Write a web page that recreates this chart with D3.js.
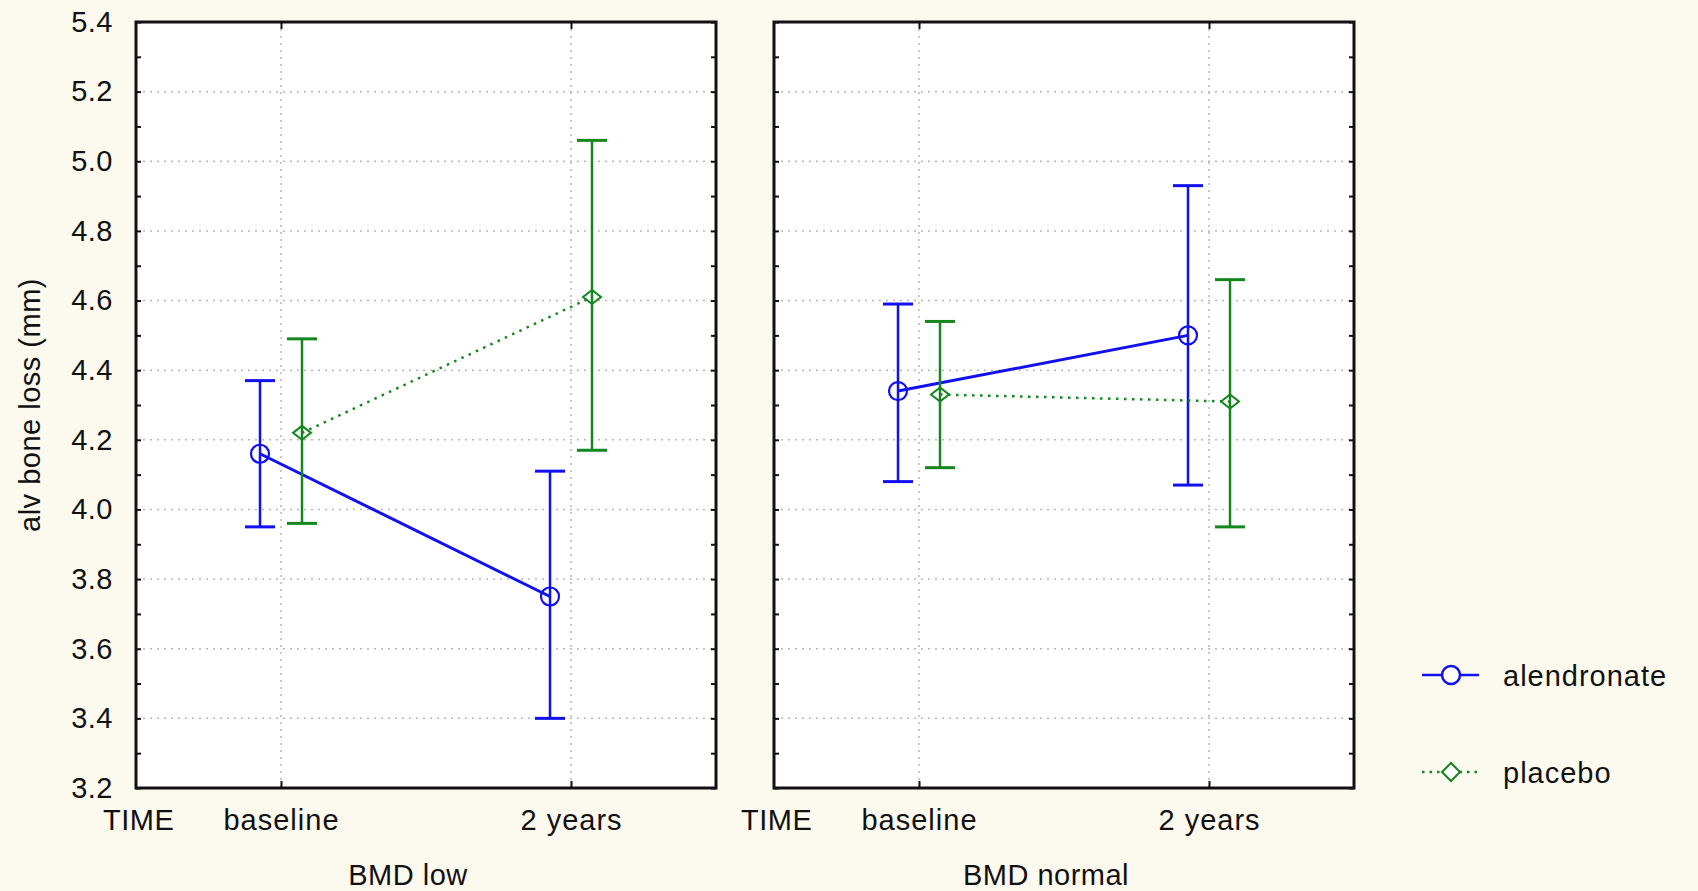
<!DOCTYPE html>
<html>
<head>
<meta charset="utf-8">
<script src="https://cdn.jsdelivr.net/npm/d3@7"></script>
<style>
  body { margin: 0; background: #fcfaee; }
  text { font-family: "Liberation Sans", Arial, sans-serif; fill: #111; }
</style>
</head>
<body>
<script>
// panels (BMD group) and time points
var groups = ["BMD low", "BMD normal"];
var times = ["baseline", "2 years"];
var series = ["alendronate", "placebo"];

// means and CI bounds, one row per panel, one value per time point
var alenMean = [[4.16, 3.75], [4.34, 4.50]];
var alenLo   = [[3.95, 3.40], [4.08, 4.07]];
var alenHi   = [[4.37, 4.11], [4.59, 4.93]];
var placMean = [[4.22, 4.61], [4.33, 4.31]];
var placLo   = [[3.96, 4.17], [4.12, 3.95]];
var placHi   = [[4.49, 5.06], [4.54, 4.66]];

var yTicks = [3.2, 3.4, 3.6, 3.8, 4.0, 4.2, 4.4, 4.6, 4.8, 5.0, 5.2, 5.4];
var yMinor = [3.3, 3.5, 3.7, 3.9, 4.1, 4.3, 4.5, 4.7, 4.9, 5.1, 5.3];

var colors = {alendronate: "#1010f0", placebo: "#14861e"};

var W = 1698, H = 891;
var plotTop = 22, plotBottom = 788;

var svg = d3.select("body").append("svg")
    .attr("width", W)
    .attr("height", H);

var panel = d3.scaleBand()
    .domain(groups)
    .range([136, 1354])
    .paddingInner(58 / 638);

var pw = panel.bandwidth();

var y = d3.scaleLinear()
    .domain([3.2, 5.4])
    .range([plotBottom, plotTop]);

var x = d3.scalePoint()
    .domain(times)
    .range([0, pw])
    .padding(0.5);

// horizontal shift of each series around the time point
var shift = d3.scalePoint()
    .domain(series)
    .range([-21, 21]);

var rows = [
    {name: "alendronate", mean: alenMean, lo: alenLo, hi: alenHi},
    {name: "placebo", mean: placMean, lo: placLo, hi: placHi}
];

groups.forEach(function(g, gi){
    var p = svg.append("g")
        .attr("transform", "translate(" + panel(g) + ",0)");

    p.append("rect")
        .attr("x", 0).attr("y", plotTop)
        .attr("width", pw).attr("height", plotBottom - plotTop)
        .attr("fill", "#fff");

    // grid
    p.selectAll(".hgrid")
        .data(yTicks.slice(1, -1))
        .enter().append("line")
        .attr("x1", 0).attr("x2", pw)
        .attr("y1", function(d){ return y(d); })
        .attr("y2", function(d){ return y(d); })
        .attr("stroke", "#b8b8b8")
        .attr("stroke-width", 1.5)
        .attr("stroke-dasharray", "2,5");

    p.selectAll(".vgrid")
        .data(times)
        .enter().append("line")
        .attr("x1", function(d){ return x(d); })
        .attr("x2", function(d){ return x(d); })
        .attr("y1", plotTop).attr("y2", plotBottom)
        .attr("stroke", "#b8b8b8")
        .attr("stroke-width", 1.5)
        .attr("stroke-dasharray", "2,5");

    // inner ticks on both sides
    [[d3.axisLeft, 0], [d3.axisRight, pw]].forEach(function(a){
        var ax = p.append("g")
            .attr("transform", "translate(" + a[1] + ",0)")
            .call(a[0](y).tickValues(yTicks.concat(yMinor)).tickSize(-5).tickFormat(""));
        ax.select(".domain").remove();
        ax.selectAll("line").attr("stroke", "#111").attr("stroke-width", 2);
    });
    [[d3.axisBottom, plotBottom], [d3.axisTop, plotTop]].forEach(function(a){
        var ax = p.append("g")
            .attr("transform", "translate(0," + a[1] + ")")
            .call(a[0](x).tickSize(-7).tickFormat(""));
        ax.select(".domain").remove();
        ax.selectAll("line").attr("stroke", "#111").attr("stroke-width", 2);
    });

    if(gi === 0){
        var yl = p.append("g")
            .call(d3.axisLeft(y).tickValues(yTicks).tickSize(0).tickPadding(23).tickFormat(d3.format(".1f")));
        yl.select(".domain").remove();
        yl.selectAll("text")
            .style("font-size", "29px")
            .attr("letter-spacing", "0.5px")
            .attr("fill", "#111");
    }

    // category labels
    var xl = p.append("g")
        .attr("transform", "translate(0," + plotBottom + ")")
        .call(d3.axisBottom(x).tickSize(0).tickPadding(0));
    xl.select(".domain").remove();
    xl.selectAll("text")
        .attr("dy", null)
        .attr("y", 42)
        .style("font-size", "29px")
        .attr("letter-spacing", "1px")
        .attr("fill", "#111");

    p.append("text")
        .attr("x", -33).attr("y", plotBottom + 42)
        .attr("text-anchor", "start")
        .style("font-size", "29px")
        .attr("letter-spacing", "0.5px")
        .text("TIME");

    p.append("text")
        .attr("x", pw / 2 - 18).attr("y", plotBottom + 97)
        .attr("text-anchor", "middle")
        .style("font-size", "29px")
        .attr("letter-spacing", "0.5px")
        .text(g);

    // series
    rows.forEach(function(r){
        var c = colors[r.name];
        var pts = times.map(function(t, ti){
            return {
                x: x(t) + shift(r.name),
                m: r.mean[gi][ti],
                lo: r.lo[gi][ti],
                hi: r.hi[gi][ti]
            };
        });

        p.append("path")
            .datum(pts)
            .attr("fill", "none")
            .attr("stroke", c)
            .attr("stroke-width", r.name === "placebo" ? 2.5 : 3)
            .attr("stroke-dasharray", r.name === "placebo" ? "2.5,5.5" : null)
            .attr("d", d3.line()
                .x(function(d){ return d.x; })
                .y(function(d){ return y(d.m); }));

        var eb = p.selectAll(".eb-" + r.name)
            .data(pts)
            .enter().append("g");
        eb.append("line")
            .attr("x1", function(d){ return d.x; })
            .attr("x2", function(d){ return d.x; })
            .attr("y1", function(d){ return y(d.lo); })
            .attr("y2", function(d){ return y(d.hi); })
            .attr("stroke", c).attr("stroke-width", 2.5);
        ["lo", "hi"].forEach(function(k){
            eb.append("line")
                .attr("x1", function(d){ return d.x - 15; })
                .attr("x2", function(d){ return d.x + 15; })
                .attr("y1", function(d){ return y(d[k]); })
                .attr("y2", function(d){ return y(d[k]); })
                .attr("stroke", c).attr("stroke-width", 3);
        });

        if(r.name === "alendronate"){
            eb.append("circle")
                .attr("cx", function(d){ return d.x; })
                .attr("cy", function(d){ return y(d.m); })
                .attr("r", 9)
                .attr("fill", "none")
                .attr("stroke", c).attr("stroke-width", 2.2);
        } else {
            eb.append("path")
                .attr("transform", function(d){ return "translate(" + d.x + "," + y(d.m) + ")"; })
                .attr("d", "M-9,0L0,-7L9,0L0,7Z")
                .attr("fill", "none")
                .attr("stroke", c).attr("stroke-width", 2);
        }
    });

    // frame
    p.append("rect")
        .attr("x", 0).attr("y", plotTop)
        .attr("width", pw).attr("height", plotBottom - plotTop)
        .attr("fill", "none")
        .attr("stroke", "#111")
        .attr("stroke-width", 3);
});

// y axis title
svg.append("text")
    .attr("transform", "translate(40,405) rotate(-90)")
    .attr("text-anchor", "middle")
    .style("font-size", "29px")
    .attr("letter-spacing", "0.5px")
    .text("alv bone loss (mm)");

// legend
var legend = svg.selectAll(".legend")
    .data(series)
    .enter().append("g")
    .attr("transform", function(d, i){ return "translate(1422," + (675 + i * 97) + ")"; });

legend.append("line")
    .attr("x1", 0).attr("x2", 57)
    .attr("stroke", function(d){ return colors[d]; })
    .attr("stroke-width", 2.5)
    .attr("stroke-dasharray", function(d){ return d === "placebo" ? "2.5,5" : null; });

legend.each(function(d){
    var g = d3.select(this);
    if(d === "alendronate"){
        g.append("circle").attr("cx", 29).attr("r", 9)
            .attr("fill", "#fff").attr("stroke", colors[d]).attr("stroke-width", 2.5);
    } else {
        g.append("path").attr("d", "M20,0L29,-9L38,0L29,9Z")
            .attr("fill", "#fff").attr("stroke", colors[d]).attr("stroke-width", 2);
    }
});

legend.append("text")
    .attr("x", 81)
    .attr("y", 11)
    .style("font-size", "29px")
    .attr("letter-spacing", "1px")
    .text(function(d){ return d; });
</script>
</body>
</html>
